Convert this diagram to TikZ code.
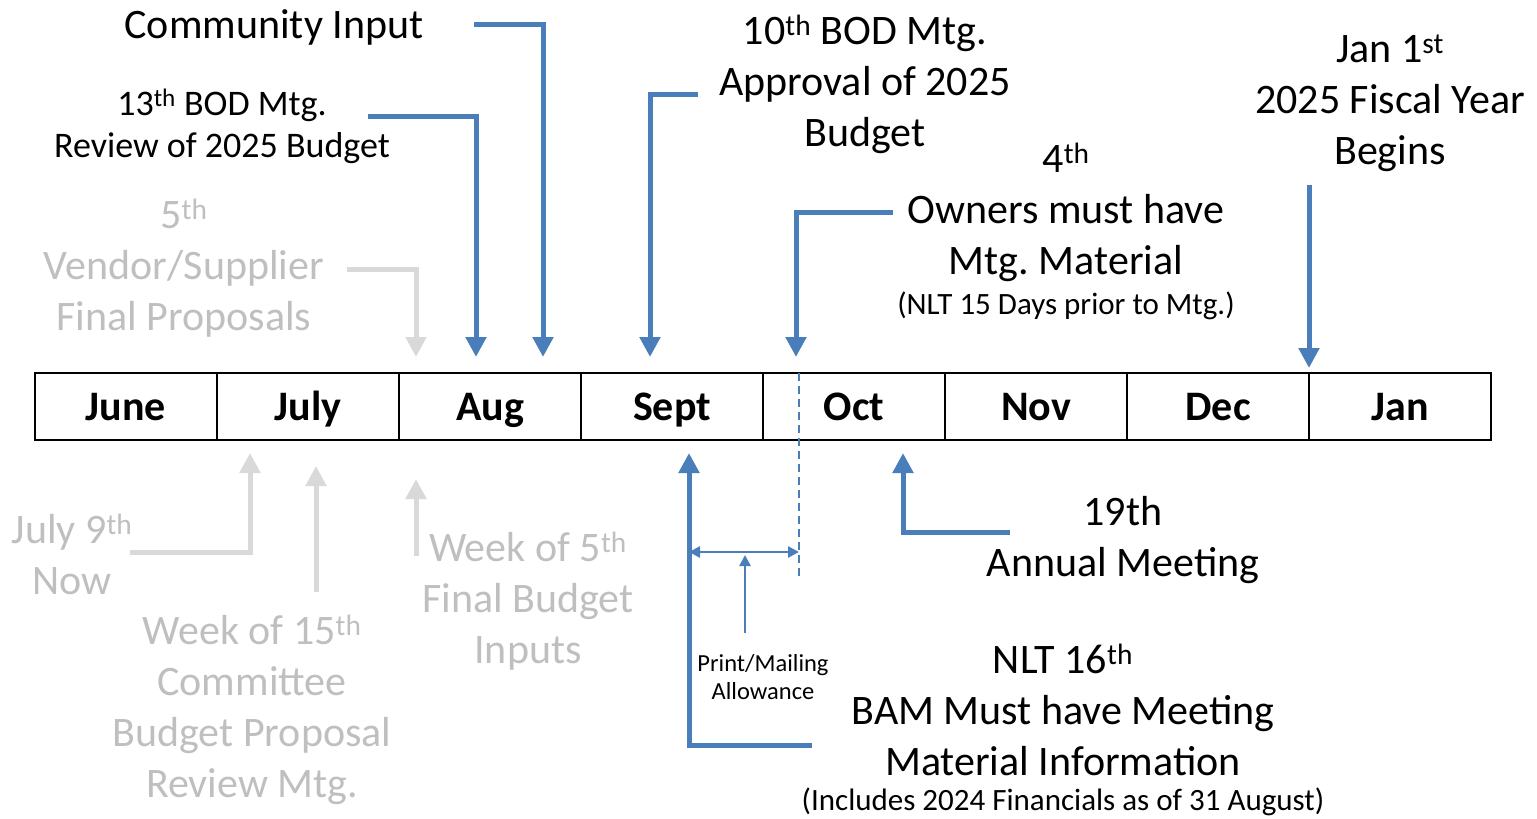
\documentclass[tikz,border=0pt]{standalone}
\usepackage{fontspec}
\setmainfont{Carlito}
\usetikzlibrary{arrows.meta}
\definecolor{bl}{HTML}{4A7EBB}
\definecolor{ga}{HTML}{D9D9D9}
\definecolor{gt}{HTML}{BFBFBF}
\frenchspacing
\begin{document}
\begin{tikzpicture}[x=1pt,y=-1pt,
  lbl/.style={align=center, inner sep=0pt, font=\fontsize{42}{51}\selectfont},
  mlbl/.style={align=center, inner sep=0pt, font=\fontsize{36}{42}\selectfont},
  slbl/.style={align=center, inner sep=0pt, font=\fontsize{31}{36}\selectfont},
  tlbl/.style={align=center, inner sep=0pt, font=\fontsize{24.5}{28}\selectfont},
  grey/.style={text=gt},
  month/.style={draw=black, line width=2pt, minimum width=182pt, minimum height=67pt, inner sep=0pt, text height=28pt, text depth=0pt, font=\fontsize{42}{48}\selectfont\bfseries},
  barrow/.style={draw=bl, line width=5pt, -{Triangle[width=20pt,length=20pt]}},
  garrow/.style={draw=ga, line width=5pt, -{Triangle[width=20pt,length=20pt]}},
  tarrow/.style={draw=bl, line width=2.5pt, -{Triangle[width=11pt,length=11pt]}},
  tdarrow/.style={draw=bl, line width=2.5pt, {Triangle[width=11pt,length=11pt]}-{Triangle[width=11pt,length=11pt]}},
  dline/.style={draw=bl, line width=2.5pt, dash pattern=on 8pt off 5pt}
]
\useasboundingbox (0,0) rectangle (1537,819);

% timeline
\node[month] (m1) at (126,406.5) {June};
\node[month] (m2) at (308,406.5) {July};
\node[month] (m3) at (490,406.5) {Aug};
\node[month] (m4) at (672,406.5) {Sept};
\node[month] (m5) at (854,406.5) {Oct};
\node[month] (m6) at (1036,406.5) {Nov};
\node[month] (m7) at (1218,406.5) {Dec};
\node[month] (m8) at (1400,406.5) {Jan};

% labels above
\node[lbl] (ci) at (274,27) {Community Input};
\node[mlbl] (bod13) at (222,126.5) {13\textsuperscript{th} BOD Mtg.\\Review of 2025 Budget};
\node[lbl,grey] (vend) at (184,268) {5\textsuperscript{th}\\Vendor/Supplier\\Final Proposals};
\node[lbl] (bod10) at (865,84) {10\textsuperscript{th} BOD Mtg.\\Approval of 2025\\Budget};
\node[lbl] (jan1) at (1390,103) {Jan 1\textsuperscript{st}\\2025 Fiscal Year\\Begins};
\node[lbl] (own) at (1066,212) {4\textsuperscript{th}\\Owners must have\\Mtg. Material};
\node[slbl] (nlt15) at (1066,306) {(NLT 15 Days prior to Mtg.)};

% labels below
\node[lbl,grey] (jul9) at (72,554) {July 9\textsuperscript{th}\\Now};
\node[lbl,grey] (wk15) at (252,710) {Week of 15\textsuperscript{th}\\Committee\\Budget Proposal\\Review Mtg.};
\node[lbl,grey] (wk5) at (528,601) {Week of 5\textsuperscript{th}\\Final Budget\\Inputs};
\node[tlbl] (print) at (763,677) {Print/Mailing\\Allowance};
\node[lbl] (am) at (1123,540) {19th\\Annual Meeting};
\node[lbl] (bam) at (1063,710) {NLT 16\textsuperscript{th}\\BAM Must have Meeting\\Material Information};
\node[slbl] (incl) at (1063,802) {(Includes 2024 Financials as of 31 August)};

% coordinates
\coordinate (ciS) at (474,24);   \coordinate (ciE) at (543,357);
\coordinate (b13S) at (368,116); \coordinate (b13E) at (476,357);
\coordinate (b10S) at (698,94);  \coordinate (b10E) at (650,357);
\coordinate (owS) at (893,212);  \coordinate (owE) at (796,357);
\coordinate (janS) at (1309,185); \coordinate (janE) at (1309,368);
\coordinate (vS) at (347,269);   \coordinate (vE) at (416,357);
\coordinate (j9S) at (130,552);  \coordinate (j9E) at (250,453);
\coordinate (w15S) at (316,592); \coordinate (w15E) at (316,466);
\coordinate (w5S) at (416,556);  \coordinate (w5E) at (416,479);
\coordinate (spS) at (812,745);  \coordinate (spE) at (689,453);
\coordinate (ocS) at (1010,532); \coordinate (ocE) at (903,453);
\coordinate (dT) at (799,373);   \coordinate (dB) at (799,580);
\coordinate (pL) at (689,552);   \coordinate (pR) at (799,552);
\coordinate (pS) at (745,633);   \coordinate (pE) at (745,555);

% connectors
\draw[barrow] (ciS) -| (ciE);
\draw[barrow] (b13S) -| (b13E);
\draw[barrow] (b10S) -| (b10E);
\draw[barrow] (owS) -| (owE);
\draw[barrow] (janS) -- (janE);
\draw[garrow] (vS) -| (vE);
\draw[garrow] (j9S) -| (j9E);
\draw[garrow] (w15S) -- (w15E);
\draw[garrow] (w5S) -- (w5E);
\draw[barrow] (spS) -| (spE);
\draw[barrow] (ocS) -| (ocE);
\draw[dline] (dT) -- (dB);
\draw[tdarrow] (pL) -- (pR);
\draw[tarrow] (pS) -- (pE);
\end{tikzpicture}
\end{document}
